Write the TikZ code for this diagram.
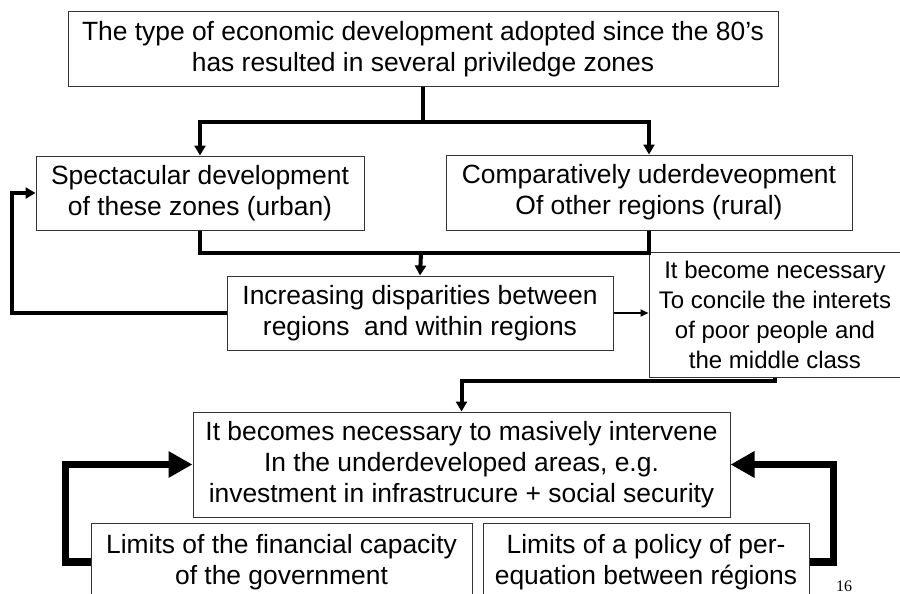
\documentclass[tikz,border=0pt]{standalone}
\usepackage{fontspec}
\setmainfont{Liberation Sans}
\newfontfamily\pagefont{Liberation Serif}
\usetikzlibrary{arrows.meta}

\begin{document}
\begin{tikzpicture}[x=1pt,y=-1pt,
	box/.style={draw=black!80,line width=1pt,align=center,inner sep=0pt,
		font=\fontsize{26.4}{31}\selectfont},
	conn/.style={line width=4pt},
	tip/.style={-{Triangle[width=11pt,length=10pt]}},
	thin/.style={line width=2pt,-{Triangle[width=7pt,length=8pt]}},
	heavy/.style={line width=7.5pt,-{Triangle[width=25pt,length=24pt]}}]
	\useasboundingbox (0,0) rectangle (900,594);

	\node[box,minimum width=710pt,minimum height=75pt] (top) at (423,49.5)
		{The type of economic development adopted since the 80’s\\has resulted in several priviledge zones};
	\node[box,minimum width=328pt,minimum height=74pt] (urban) at (200,193)
		{Spectacular development\\of these zones (urban)};
	\node[box,minimum width=406pt,minimum height=75pt] (rural) at (649,192.5)
		{Comparatively uderdeveopment\\Of other regions (rural)};
	\node[box,minimum width=386pt,minimum height=74pt] (gap) at (420,313)
		{Increasing disparities between\\regions~ and within regions};
	\node[box,minimum width=252pt,minimum height=125pt,
		font=\fontsize{24}{30}\selectfont] (concile) at (775,314.5)
		{It become necessary\\To concile the interets\\of poor people and\\the middle class};
	\node[box,minimum width=537pt,minimum height=105pt] (act) at (461.5,464.5)
		{It becomes necessary to masively intervene\\In the underdeveloped areas, e.g.\\investment in infrastrucure + social security};
	\node[box,minimum width=381pt,minimum height=78pt] (money) at (281.5,562)
		{Limits of the financial capacity\\of the government};
	\node[box,minimum width=326pt,minimum height=78pt] (pereq) at (646,562)
		{Limits of a policy of per-\\equation between régions};
	\node[font=\pagefont\fontsize{16}{16}\selectfont,anchor=base west,inner sep=0pt]
		(page) at (836,591.5) {16};

	\coordinate (join) at (421,253);

	\draw[conn,tip] (top.south) -- ++(0,34) -| (urban.north);
	\draw[conn,tip] (top.south) -- ++(0,34) -| (rural.north);
	\draw[conn] (urban.south) |- (join);
	\draw[conn] (rural.south) |- (join);
	\draw[conn,tip] (join) -- (gap.north);
	\draw[conn,tip] (gap.west) -- ++(-215,0) |- (urban.west);
	\draw[thin] (gap.east) -- (gap.east -| concile.west);
	\draw[conn,tip] (concile.south) -- ++(0,3) -| (act.north);
	\draw[heavy] (money.west) -- ++(-25,0) |- (act.west);
	\draw[heavy] (pereq.east) -- ++(24,0) |- (act.east);

\end{tikzpicture}
\end{document}
